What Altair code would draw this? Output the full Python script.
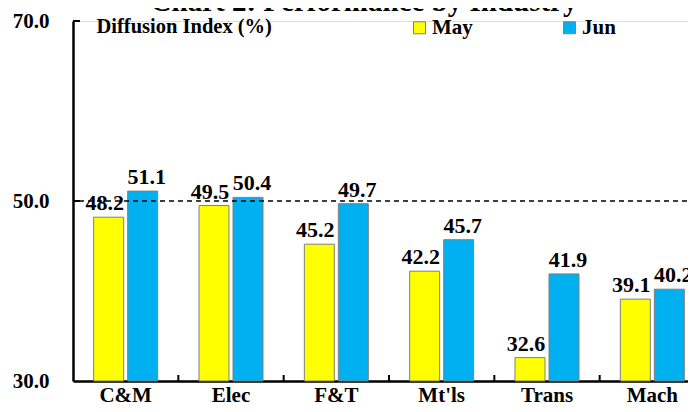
import altair as alt
import pandas as pd

categories = ["C&M", "Elec", "F&T", "Mt'ls", "Trans", "Mach"]
series_names = ["May", "Jun"]
may_values = [48.2, 49.5, 45.2, 42.2, 32.6, 39.1]
jun_values = [51.1, 50.4, 49.7, 45.7, 41.9, 40.2]
y_ticks = [30, 50, 70]
reference_level = [50]

FONT = "'Times New Roman', 'Liberation Serif', 'DejaVu Serif', serif"

rows = []
for c, m, j in zip(categories, may_values, jun_values):
    rows.append({"cat": c, "series": "May", "value": m})
    rows.append({"cat": c, "series": "Jun", "value": j})
df = pd.DataFrame(rows)

yscale = alt.Scale(domain=[30, 70], zero=False, nice=False)
xscale = alt.Scale(domain=categories, paddingInner=0, paddingOuter=0)
xoff = alt.XOffset("series:N", sort=series_names,
                   scale=alt.Scale(domain=series_names, paddingInner=0.118, paddingOuter=0.6075))

x_axis = alt.Axis(title=None, labelAngle=0, ticks=False, tickSize=0,
                  labelFont=FONT, labelFontSize=21, labelFontWeight="bold",
                  labelColor="black", labelPadding=3, labelBaseline="top",
                  domainColor="black", domainWidth=2.5, grid=False)
y_axis = alt.Axis(values=y_ticks, format=".1f", ticks=False, tickSize=0, grid=False,
                  labelFont=FONT, labelFontSize=21, labelFontWeight="bold",
                  labelColor="black", labelPadding=24,
                  domainColor="black", domainWidth=2.5,
                  title="Diffusion Index (%)", titleAngle=0, titleAlign="left",
                  titleBaseline="alphabetic", titleX=23, titleY=11,
                  titleFont=FONT, titleFontSize=20.5, titleFontWeight="bold",
                  titleColor="black")

base = alt.Chart(df)

bars = base.mark_bar(stroke="#7f7f7f", strokeWidth=1).encode(
    x=alt.X("cat:N", sort=categories, scale=xscale, axis=x_axis),
    xOffset=xoff,
    y=alt.Y("value:Q", scale=yscale, axis=y_axis),
    y2=alt.datum(30),
    color=alt.Color("series:N", sort=series_names,
                    scale=alt.Scale(domain=series_names, range=["#FFFF00", "#00B0F0"]),
                    legend=alt.Legend(title=None, orient="none", legendX=336, legendY=-4,
                                      direction="horizontal", symbolType="square",
                                      symbolSize=144, symbolStrokeColor="#7f7f7f",
                                      symbolStrokeWidth=1, labelFont=FONT, labelFontSize=21,
                                      labelFontWeight="bold", labelColor="black",
                                      labelOffset=2, columnPadding=86, padding=0)),
)

def labels(name, dx):
    return base.transform_filter(alt.datum.series == name).mark_text(
        font=FONT, fontSize=22, fontWeight="bold", color="black",
        baseline="alphabetic", dy=-7, dx=dx
    ).encode(
        x=alt.X("cat:N", sort=categories, scale=xscale, axis=x_axis),
        xOffset=xoff,
        y=alt.Y("value:Q", scale=yscale, axis=y_axis),
        text=alt.Text("value:Q", format=".1f"),
    )

ref = alt.Chart(pd.DataFrame({"v": reference_level})).mark_rule(
    color="black", strokeWidth=1.4, strokeDash=[5, 4]
).encode(y=alt.Y("v:Q", scale=yscale, axis=y_axis))

ytick = alt.Chart(pd.DataFrame({"v": y_ticks[1:]})).mark_rule(
    color="black", strokeWidth=2
).encode(y=alt.Y("v:Q", scale=yscale, axis=y_axis), x=alt.value(0), x2=alt.value(7))

xtick = alt.Chart(pd.DataFrame({"cat": categories[1:]})).mark_rule(
    color="black", strokeWidth=2
).encode(x=alt.X("cat:N", scale=xscale, bandPosition=0, axis=x_axis),
         y=alt.value(360), y2=alt.value(354))

chart = alt.layer(bars, ref, labels("May", -4), labels("Jun", 4), ytick, xtick).properties(
    width=632, height=360,
    autosize=alt.AutoSizeParams(type="none"),
    padding={"left": 65, "top": 13, "right": -17, "bottom": 23},
    title=alt.TitleParams("Chart 2: Performance by Industry", font=FONT, fontSize=29,
                          fontWeight="bold", color="black", anchor="middle", dx=-25, dy=11),
).configure_view(stroke=None).configure(background="white")

chart.save("out.html", embed_options={"renderer": "svg", "actions": False})
